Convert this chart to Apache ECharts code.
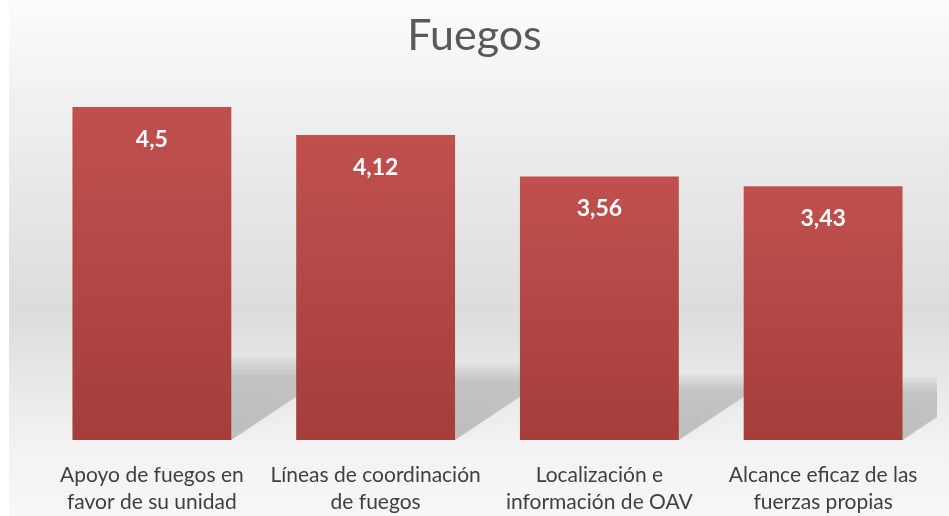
<!DOCTYPE html>
<html>
<head>
<meta charset="utf-8">
<script src="https://cdn.jsdelivr.net/npm/echarts@6/dist/echarts.min.js"></script>
<style>
  html, body { margin: 0; padding: 0; background: #fff; }
  #chart { width: 949px; height: 516px; }
</style>
</head>
<body>
<div id="chart"></div>
<script>
// datos del grafico
const categories = [
  'Apoyo de fuegos en\nfavor de su unidad',
  'Líneas de coordinación\nde fuegos',
  'Localización e\ninformación de OAV',
  'Alcance eficaz de las\nfuerzas propias'
]
const values = [4.5, 4.12, 3.56, 3.43]
const chartTitle = 'Fuegos'

const chart = echarts.init(document.getElementById('chart'))

// sombra en perspectiva detras de cada barra
function renderShadow(params, api) {
  const base = api.coord([api.value(0), 0])
  const top = api.coord([api.value(0), api.value(1)])
  const w = api.size([1, 0])[0] * 0.71
  const h = (base[1] - top[1]) * 0.25
  const dx = h * 1.5
  const x0 = base[0] - w / 2
  const x1 = base[0] + w / 2
  const cs = params.coordSys
  return {
    type: 'polygon',
    z2: -1,
    shape: {
      points: [
        [x0, base[1]], [x1, base[1]],
        [x1 + dx, base[1] - h], [x0 + dx, base[1] - h]
      ]
    },
    clipPath: {
      type: 'rect',
      shape: { x: cs.x - 40, y: cs.y, width: cs.width + 42, height: cs.height }
    },
    style: {
      fill: new echarts.graphic.LinearGradient(0, 0, 0, 1, [
        { offset: 0, color: 'rgba(0,0,0,0.02)' },
        { offset: 0.25, color: 'rgba(0,0,0,0.15)' },
        { offset: 1, color: 'rgba(0,0,0,0.2)' }
      ]),
      shadowBlur: 12,
      shadowColor: 'rgba(0,0,0,0.12)'
    }
  }
}

chart.setOption({
  backgroundColor: '#ffffff',
  animation: false,
  graphic: [{
    type: 'rect',
    z: -10,
    silent: true,
    shape: { x: 9, y: 0, width: 940, height: 516 },
    style: {
      fill: new echarts.graphic.LinearGradient(0, 0, 0, 1, [
        { offset: 0, color: '#fcfcfc' },
        { offset: 0.2, color: '#f0f0f0' },
        { offset: 0.6, color: '#dcdcdc' },
        { offset: 0.86, color: '#f2f2f2' },
        { offset: 1, color: '#f7f7f7' }
      ])
    }
  }],
  title: {
    text: chartTitle,
    left: 'center',
    top: 10,
    textStyle: {
      fontFamily: 'Lato',
      fontWeight: 'normal',
      fontSize: 43,
      color: '#595959'
    }
  },
  grid: { left: 40, right: 14, top: 70, bottom: 70 },
  xAxis: {
    type: 'category',
    data: categories,
    axisLine: { show: false },
    axisTick: { show: false },
    axisLabel: {
      interval: 0,
      margin: 22,
      fontFamily: 'Lato',
      fontSize: 21,
      lineHeight: 27,
      color: '#404040'
    }
  },
  yAxis: {
    type: 'value',
    min: 0,
    max: 5,
    show: false
  },
  series: [
    {
      type: 'custom',
      renderItem: renderShadow,
      data: values.map((v, i) => [i, v]),
      silent: true,
      z: 1
    },
    {
      type: 'bar',
      data: values,
      barWidth: '71%',
      z: 2,
      itemStyle: {
        color: new echarts.graphic.LinearGradient(0, 0, 0, 1, [
          { offset: 0, color: '#c0504e' },
          { offset: 1, color: '#a43e3b' }
        ])
      },
      label: {
        show: true,
        position: 'insideTop',
        distance: 21,
        fontFamily: 'Lato',
        fontWeight: 'bold',
        fontSize: 23,
        color: '#ffffff',
        formatter: p => String(p.value).replace('.', ',')
      }
    }
  ]
})
</script>
</body>
</html>
